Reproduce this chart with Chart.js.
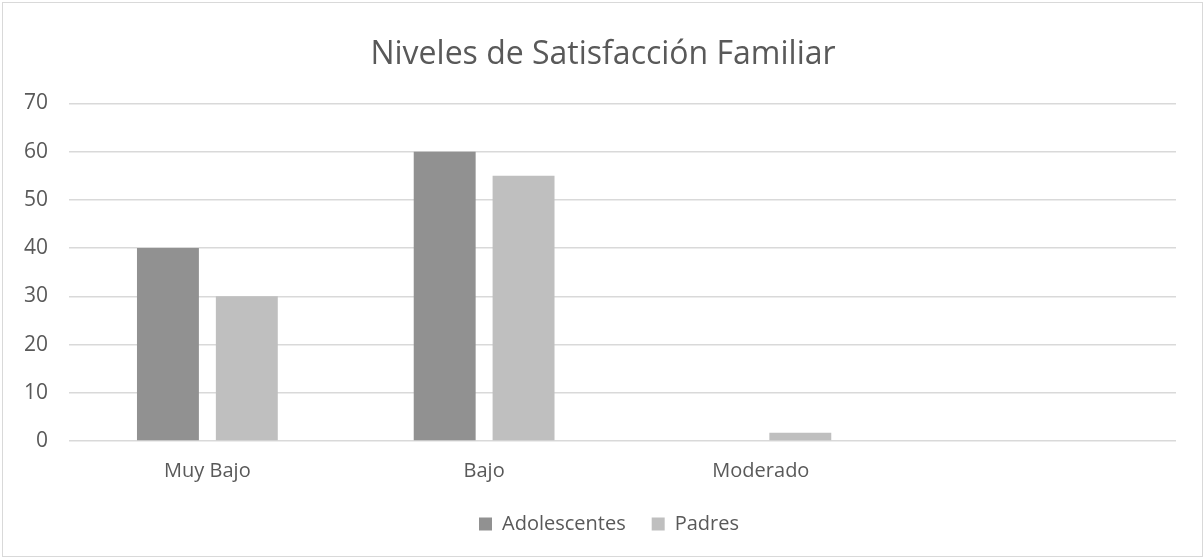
<!DOCTYPE html>
<html>
<head>
<meta charset="utf-8">
<title>Niveles de Satisfacción Familiar</title>
<script src="https://cdn.jsdelivr.net/npm/chart.js@4/dist/chart.umd.min.js"></script>
<style>
    html, body { margin: 0; padding: 0; background: #fff; }
    #wrap { width: 1204px; height: 559px; }
</style>
</head>
<body>
<div id="wrap"><canvas id="satisfaccionChart" width="1204" height="559"></canvas></div>
<script>
const niveles = ['Muy Bajo', 'Bajo', 'Moderado', ''];
const adolescentes = [40, 60, 0, null];
const padres = [30, 55, 1.7, null];
const yTicks = [0, 10, 20, 30, 40, 50, 60, 70];

const textColor = '#595959';
const gridColor = '#d9d9d9';
const fontFamily = '"Open Sans", "Noto Sans", sans-serif';

// light frame around the whole chart
const frame = {
    id: 'frame',
    beforeDraw(chart) {
        const ctx = chart.ctx;
        ctx.save();
        ctx.fillStyle = '#fff';
        ctx.fillRect(0, 0, chart.width, chart.height);
        ctx.strokeStyle = '#d9d9d9';
        ctx.lineWidth = 1;
        ctx.strokeRect(2.5, 2.5, chart.width - 4, chart.height - 5);
        ctx.restore();
    }
};

// centre title and legend on the canvas rather than on the padded area
const recentre = {
    id: 'recentre',
    afterLayout(chart) {
        const shift = (box, dx) => {
            if (!box) return;
            box.left += dx;
            box.right += dx;
        };
        shift(chart.titleBlock, 15);
        shift(chart.legend, 21);
    }
};

const ctx = document.getElementById('satisfaccionChart').getContext('2d');
new Chart(ctx, {
    type: 'bar',
    data: {
        labels: niveles,
        datasets: [{
            label: 'Adolescentes',
            data: adolescentes,
            backgroundColor: '#919191',
            categoryPercentage: 0.57,
            barPercentage: 0.785
        }, {
            label: 'Padres',
            data: padres,
            backgroundColor: '#bfbfbf',
            categoryPercentage: 0.57,
            barPercentage: 0.785
        }]
    },
    options: {
        responsive: false,
        animation: false,
        layout: {
            padding: { left: 0, right: 28, top: 0, bottom: 15 }
        },
        scales: {
            x: {
                grid: { display: false, drawTicks: false },
                border: { display: false },
                ticks: {
                    color: textColor,
                    font: { family: fontFamily, size: 20 },
                    padding: 18
                },
                afterFit: scale => { scale.height = 47; }
            },
            y: {
                min: 0,
                max: 70,
                afterBuildTicks: scale => {
                    scale.ticks = yTicks.map(v => ({ value: v }));
                },
                grid: { color: gridColor, lineWidth: 1.5, drawTicks: false },
                border: { display: false },
                ticks: {
                    color: textColor,
                    font: { family: fontFamily, size: 21 },
                    padding: 21
                },
                afterFit: scale => { scale.width = 69; }
            }
        },
        plugins: {
            title: {
                display: true,
                text: 'Niveles de Satisfacción Familiar',
                color: textColor,
                font: { family: fontFamily, size: 32, weight: 'normal' },
                padding: { top: 36, bottom: 29 }
            },
            legend: {
                display: true,
                position: 'bottom',
                labels: {
                    color: textColor,
                    font: { family: fontFamily, size: 20 },
                    boxWidth: 13,
                    boxHeight: 13,
                    padding: 26
                }
            },
            tooltip: { enabled: false }
        }
    },
    plugins: [frame, recentre]
});
</script>
</body>
</html>
